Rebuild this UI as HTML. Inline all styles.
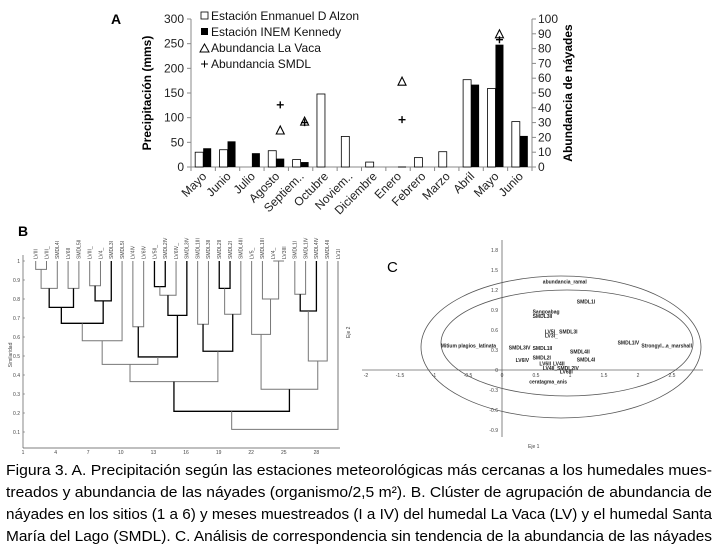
<!DOCTYPE html>
<html><head><meta charset="utf-8"><style>
body{margin:0;background:#fff}
svg{display:block;font-family:"Liberation Sans",sans-serif}
</style></head><body>
<svg id="fig" width="719" height="546" viewBox="0 0 719 546">
<g id="panelA"></g>
<g id="panelB"></g>
<g id="panelC"></g>
<g font-size="15" fill="#000">
<text x="6" y="475" textLength="706" lengthAdjust="spacingAndGlyphs">Figura 3. A. Precipitación según las estaciones meteorológicas más cercanas a los humedales mues-</text>
<text x="6" y="497" textLength="706" lengthAdjust="spacingAndGlyphs">treados y abundancia de las náyades (organismo/2,5 m²). B. Clúster de agrupación de abundancia de</text>
<text x="6" y="519" textLength="706" lengthAdjust="spacingAndGlyphs">náyades en los sitios (1 a 6) y meses muestreados (I a IV) del humedal La Vaca (LV) y el humedal Santa</text>
<text x="6" y="541" textLength="706" lengthAdjust="spacingAndGlyphs">María del Lago (SMDL). C. Análisis de correspondencia sin tendencia de la abundancia de las náyades</text>
</g>
</svg>
<script>
const months=["Mayo","Junio","Julio","Agosto","Septiem..","Octubre","Noviem..","Diciembre","Enero","Febrero","Marzo","Abril","Mayo","Junio"];
const alzon=[30,35,0,33,15,148,62,10,0,19,31,177,159,92];
const inem=[38,52,28,17,10,0,0,0,1,0,0,167,248,63];
const vacaIdx=[3,4,8,12];
const vacaVals=[25,31,58,90];
const smdlIdx=[3,4,8,12];
const smdlVals=[42,30,32,86];
const leftTicks=[0,50,100,150,200,250,300];
const rightTicks=[0,10,20,30,40,50,60,70,80,90,100];

const leafLabels=["LVIII","LVIII_","SMDL4I","LV6II","SMDL5II","LVIII_","LV4_","SMDL3I","SMDL5I","LV4IV","LV6IV","LV5II_","SMDL2IV","LV6IV_","SMDL3IV","SMDL1III","SMDL3II","SMDL2II","SMDL2I","SMDL4III","LV5_","SMDL1III","LV4_","LV3III","SMDL1I","SMDL1IV","SMDL4IV","SMDL4II","LV1I"];
// merges: [left node, right node, similarity, bold]; node ids >=29 are previous merges
const merges=[[0,1,0.956,0],[29,2,0.856,0],[3,4,0.856,0],[30,31,0.756,1],[5,6,0.87,0],[33,7,0.79,1],[32,34,0.672,1],[35,8,0.58,0],[9,10,0.654,0],[11,12,0.865,1],[38,13,0.82,0],[39,14,0.714,1],[37,40,0.495,1],[36,41,0.456,0],[15,16,0.667,0],[17,18,0.856,1],[44,19,0.72,0],[43,45,0.525,1],[42,46,0.365,0],[22,23,1.0,0],[48,21,0.80,0],[20,49,0.614,0],[24,25,0.825,0],[51,26,0.737,1],[52,27,0.474,0],[50,53,0.325,0],[47,54,0.209,1],[55,28,0.114,0]];
const simTicks=[1,0.9,0.8,0.7,0.6,0.5,0.4,0.3,0.2,0.1];

const caPts=[[0.6,1.3,"abundancia_ramal"],[1.1,1.0,"SMDL1I"],[0.45,0.85,"Sangoabag"],[0.45,0.78,"SMDL3II"],[0.63,0.55,"LV5I_ SMDL3I"],[0.63,0.49,"LV3I_"],[1.7,0.38,"SMDL1IV"],[2.05,0.34,"Strongyl...a_marshall"],[-0.9,0.34,"Mitium plagios_latinata"],[0.1,0.31,"SMDL3IV"],[0.45,0.3,"SMDL1II"],[1.0,0.25,"SMDL4II"],[0.45,0.16,"SMDL2I"],[0.2,0.12,"LV6IV"],[0.75,0.07,"LV4II"],[1.1,0.13,"SMDL4I"],[0.55,0.07,"LV6II"],[0.6,0.0,"LV4II_SMDL2IV"],[0.85,-0.05,"LV6III"],[0.4,-0.2,"ceratagma_anis"]];
const caXTicks=[-2,-1.5,-1,-0.5,0,0.5,1,1.5,2,2.5];
const caYTicks=[1.8,1.5,1.2,0.9,0.6,0.3,0,-0.3,-0.6,-0.9];

const NS="http://www.w3.org/2000/svg";
function mk(tag,parent,attrs){const e=document.createElementNS(NS,tag);for(const k in attrs)e.setAttribute(k,attrs[k]);parent.appendChild(e);return e;}

// ---------- Panel A ----------
const A=document.getElementById('panelA');
const ax0=191,ax1=532,ay0=167,ay1=19;
const band=(ax1-ax0)/months.length;
const yL=v=>ay0-v/300*(ay0-ay1);
const yR=v=>ay0-v/100*(ay0-ay1);
const xc=i=>ax0+band*(i+0.5);
let t=mk('text',A,{x:111,y:24,'font-size':14,'font-weight':'bold'});t.textContent="A";


let l=mk('line',A,{x1:ax0,y1:ay1,x2:ax0,y2:ay0,stroke:'#888'});


l=mk('line',A,{x1:ax1,y1:ay1,x2:ax1,y2:ay0,stroke:'#888'});


l=mk('line',A,{x1:ax0,y1:ay0,x2:ax1,y2:ay0,stroke:'#888'});


leftTicks.forEach(v=>{mk('line',A,{x1:ax0-4,x2:ax0,y1:yL(v),y2:yL(v),stroke:'#888'});
 const tt=mk('text',A,{x:ax0-7,y:yL(v)+4,'font-size':12,'text-anchor':'end',fill:'#222'});tt.textContent=v;
 
 });
rightTicks.forEach(v=>{mk('line',A,{x1:ax1,x2:ax1+4,y1:yR(v),y2:yR(v),stroke:'#888'});
 const tt=mk('text',A,{x:ax1+6,y:yR(v)+4,'font-size':12,fill:'#222'});tt.textContent=v;
 
 });
for(let i=0;i<=months.length;i++)mk('line',A,{x1:ax0+band*i,x2:ax0+band*i,y1:ay0,y2:ay0+4,stroke:'#888'});
months.forEach((m,i)=>{
 const cx=xc(i);
 if(alzon[i]>0){const r=mk('rect',A,{x:cx-8,y:yL(alzon[i]),width:8,height:ay0-yL(alzon[i]),fill:'#fff',stroke:'#000','stroke-width':0.8});
  
  }
 if(inem[i]>0){const r=mk('rect',A,{x:cx,y:yL(inem[i]),width:8,height:Math.max(1,ay0-yL(inem[i])),fill:'#000'});
  
  }
 const tx=mk('text',A,{x:cx+4,y:ay0+10,'font-size':12,'text-anchor':'end',transform:`rotate(-45 ${cx+4} ${ay0+10})`,fill:'#222'});tx.textContent=m;
 
 
});
vacaIdx.forEach((i,k)=>{const cx=xc(i)+4,cy=yR(vacaVals[k]);
 const p=mk('path',A,{d:`M${cx-4} ${cy+4}L${cx} ${cy-4}L${cx+4} ${cy+4}Z`,fill:'none',stroke:'#000','stroke-width':1.1});
 
 });
smdlIdx.forEach((i,k)=>{const cx=xc(i)+4,cy=yR(smdlVals[k]);
 const p=mk('path',A,{d:`M${cx-3.5} ${cy}H${cx+3.5}M${cx} ${cy-3.5}V${cy+3.5}`,stroke:'#000','stroke-width':1.4});
 
 });
t=mk('text',A,{x:0,y:0,'font-size':12,'font-weight':'bold','text-anchor':'middle',transform:`translate(151 ${(ay0+ay1)/2}) rotate(-90)`});t.textContent="Precipitación (mms)";


t=mk('text',A,{x:0,y:0,'font-size':12,'font-weight':'bold','text-anchor':'middle',transform:`translate(572 ${(ay0+ay1)/2}) rotate(-90)`});t.textContent="Abundancia de náyades";


const lg=mk('g',A,{'font-size':12,fill:'#111'});


mk('rect',lg,{x:201,y:12,width:7,height:7,fill:'#fff',stroke:'#000','stroke-width':0.8});
mk('rect',lg,{x:201,y:28,width:7,height:7,fill:'#000'});
mk('path',lg,{d:'M200 52L204.5 44L209 52Z',fill:'none',stroke:'#000'});
mk('path',lg,{d:'M201 64H208M204.5 60.5V67.5',stroke:'#000'});
[["Estación Enmanuel D Alzon",20],["Estación INEM Kennedy",36],["Abundancia La Vaca",52],["Abundancia SMDL",68]].forEach(([s,y])=>{const e=mk('text',lg,{x:211,y:y});e.textContent=s;
 
 });

// ---------- Panel B ----------
const B=document.getElementById('panelB');
const bx=i=>35.7+i*(338-35.7)/28;
const by=s=>261+(1-s)*190;
t=mk('text',B,{x:18,y:236,'font-size':14,'font-weight':'bold'});t.textContent="B";


mk('line',B,{x1:23,y1:255,x2:23,y2:448,stroke:'#555','stroke-width':0.7});
mk('line',B,{x1:23,y1:448,x2:340,y2:448,stroke:'#555','stroke-width':0.7});
simTicks.forEach(s=>{const e=mk('text',B,{x:20,y:by(s)+2,'font-size':5,'text-anchor':'end',fill:'#444'});e.textContent=s;
 
 
 mk('line',B,{x1:23,x2:25,y1:by(s),y2:by(s),stroke:'#555','stroke-width':0.5});});
for(let k=0;k<10;k++){const e=mk('text',B,{x:23+k*32.6,y:454,'font-size':5,'text-anchor':'middle',fill:'#444'});e.textContent=1+k*3;}
t=mk('text',B,{x:0,y:0,'font-size':5,'text-anchor':'middle',fill:'#444',transform:'translate(12 355) rotate(-90)'});t.textContent="Similaridad";
const nodeX=[],nodeY=[];
leafLabels.forEach((s,i)=>{nodeX[i]=bx(i);nodeY[i]=by(1);
 const e=mk('text',B,{x:0,y:0,'font-size':5,fill:'#444',transform:`translate(${bx(i)+1.8} 259) rotate(-90)`});e.textContent=s;
 
 });
merges.forEach(([a,b,s,bold],k)=>{const id=29+k,y=by(s);
 const p=mk('path',B,{d:`M${nodeX[a]} ${nodeY[a]}V${y}H${nodeX[b]}V${nodeY[b]}`,fill:'none',stroke:bold?'#000':'#777','stroke-width':bold?1.3:1});
 
 
 nodeX[id]=(nodeX[a]+nodeX[b])/2;nodeY[id]=y;});

// ---------- Panel C ----------
const C=document.getElementById('panelC');
const cx=v=>502+v*68;
const cy=v=>370-v*66.7;
t=mk('text',C,{x:387,y:272,'font-size':15});t.textContent="C";


mk('line',C,{x1:362,y1:370,x2:703,y2:370,stroke:'#666','stroke-width':0.8});
mk('line',C,{x1:502,y1:240,x2:502,y2:437,stroke:'#666','stroke-width':0.8});
caXTicks.forEach(v=>{const e=mk('text',C,{x:cx(v),y:377,'font-size':5,'text-anchor':'middle',fill:'#444'});e.textContent=v;
 
 });
caYTicks.forEach(v=>{const e=mk('text',C,{x:498,y:cy(v)+2,'font-size':5,'text-anchor':'end',fill:'#444'});e.textContent=v;
 
 });
t=mk('text',C,{x:528,y:448,'font-size':5,fill:'#444'});t.textContent="Eje 1";
t=mk('text',C,{x:0,y:0,'font-size':5,fill:'#444',transform:'translate(350 338) rotate(-90)'});t.textContent="Eje 2";
let el=mk('ellipse',C,{cx:561,cy:347,rx:140,ry:71,fill:'none',stroke:'#555','stroke-width':0.8});


el=mk('ellipse',C,{cx:567,cy:343,rx:126,ry:53,fill:'none',stroke:'#555','stroke-width':0.8});


caPts.forEach(([x,y,s])=>{const e=mk('text',C,{x:cx(x),y:cy(y),'font-size':5,'font-weight':'bold',fill:'#222'});e.textContent=s;
 
 });
</script>
</body></html>
